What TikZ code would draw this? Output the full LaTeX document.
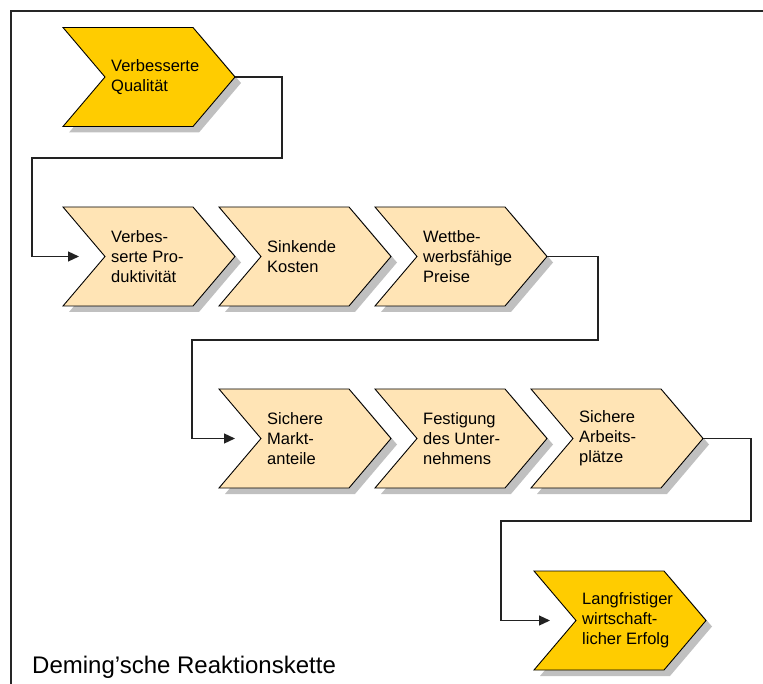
\documentclass[tikz,border=0pt]{standalone}
\usepackage{fontspec}
\setmainfont{Liberation Sans}
\usetikzlibrary{arrows.meta}
\definecolor{darkgold}{HTML}{FFCC00}
\definecolor{lightgold}{HTML}{FFE4B5}
\definecolor{shadowgray}{HTML}{C0C0C0}
\definecolor{linegray}{HTML}{222222}
\tikzset{
  chevline/.style={draw=black, line width=0.9pt, line join=miter},
  conn/.style={draw=linegray, line width=1.2pt},
  arrowconn/.style={conn, -{Triangle[length=11pt,width=10pt]}},
  chevtext/.style={anchor=west, align=left, inner sep=0pt,
    font=\fontsize{16.5}{20}\selectfont},
  frameline/.style={draw=black!85, line width=2pt}
}
% name, left x, centre y, fill colour, text
\newcommand\chev[5]{%
  \fill[shadowgray] ({#2+6},{#3-49.5+6}) -- ++(130,0) -- ++(42,49.5) -- ++(-42,49.5) -- ++(-130,0) -- ++(42,-49.5) -- cycle;
  \path[chevline, fill=#4] ({#2},{#3-49.5}) -- ++(130,0) -- ++(42,49.5) -- ++(-42,49.5) -- ++(-130,0) -- ++(42,-49.5) -- cycle;
  \node[chevtext] (#1) at ({#2+48},{#3}) {#5};
  \coordinate (#1-tip) at ({#2+172},{#3});
  \coordinate (#1-arr) at ({#2+16},{#3});
}
\begin{document}
\begin{tikzpicture}[x=1pt,y=-1pt]
\useasboundingbox (0,0) rectangle (763,684);
% frame (top and left edges)
\draw[frameline] (11,684) -- (11,11) -- (763,11);

\chev{q1}{63}{77}{darkgold}{Verbesserte\\Qualität}
\chev{q2}{63}{256.5}{lightgold}{Verbes-\\serte Pro-\\duktivität}
\chev{q3}{219}{256.5}{lightgold}{Sinkende\\Kosten}
\chev{q4}{375}{256.5}{lightgold}{Wettbe-\\werbsfähige\\Preise}
\chev{q5}{219}{438.5}{lightgold}{Sichere\\Markt-\\anteile}
\chev{q6}{375}{438.5}{lightgold}{Festigung\\des Unter-\\nehmens}
\chev{q7}{531}{438.5}{lightgold}{Sichere\\Arbeits-\\plätze}
\chev{q8}{534}{620.5}{darkgold}{Langfristiger\\wirtschaft-\\licher Erfolg}

\coordinate (b1r) at (282,158);
\coordinate (b1l) at (32,158);
\coordinate (b2r) at (598,340);
\coordinate (b2l) at (192,340);
\coordinate (b3r) at (751,521);
\coordinate (b3l) at (501,521);

\draw[arrowconn] (q1-tip) -| (b1r) -- (b1l) |- (q2-arr);
\draw[arrowconn] (q4-tip) -| (b2r) -- (b2l) |- (q5-arr);
\draw[arrowconn] (q7-tip) -| (b3r) -- (b3l) |- (q8-arr);

\node[anchor=base west, inner sep=0pt, font=\fontsize{24}{28}\selectfont] (title) at (32,673) {Deming’sche Reaktionskette};
\end{tikzpicture}
\end{document}
